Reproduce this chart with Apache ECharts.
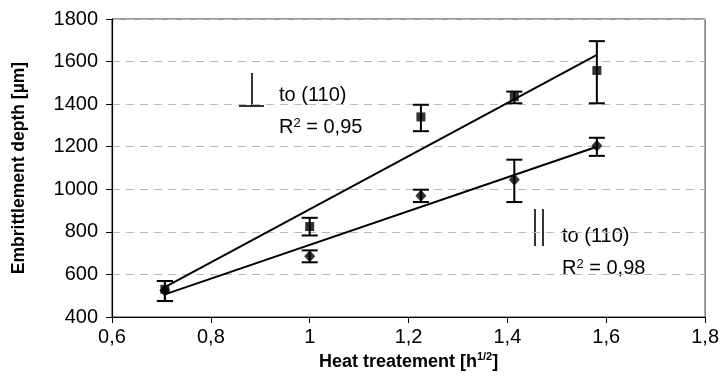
<!DOCTYPE html>
<html>
<head>
<meta charset="utf-8">
<script src="https://cdn.jsdelivr.net/npm/echarts@6/dist/echarts.min.js"></script>
<style>
html,body{margin:0;padding:0;background:#fff;}
#chart{width:722px;height:388px;}
</style>
</head>
<body>
<div id="chart"></div>
<script>
// Heat treatment (sqrt of hours)
const xValues = [0.707, 1, 1.225, 1.414, 1.581];
// Perpendicular to (110) - squares
const perpMean = [530, 825, 1340, 1435, 1558];
const perpLow  = [475, 783, 1273, 1404, 1404];
const perpHigh = [569, 866, 1397, 1459, 1696];
// Parallel to (110) - diamonds
const parMean = [525, 685, 970, 1045, 1205];
const parLow  = [475, 657, 940, 940, 1157];
const parHigh = [569, 713, 998, 1139, 1242];

const xTicks = [0.6, 0.8, 1.0, 1.2, 1.4, 1.6, 1.8];
const yTicks = [400, 600, 800, 1000, 1200, 1400, 1600, 1800];

function linFit(xs, ys) {
  const n = xs.length;
  const mx = xs.reduce((a,b)=>a+b,0)/n;
  const my = ys.reduce((a,b)=>a+b,0)/n;
  let sxy=0, sxx=0;
  for (let i=0;i<n;i++){ sxy += (xs[i]-mx)*(ys[i]-my); sxx += (xs[i]-mx)*(xs[i]-mx); }
  const b = sxy/sxx, a = my - b*mx;
  const x0 = Math.min(...xs), x1 = Math.max(...xs);
  return [[x0, a+b*x0],[x1, a+b*x1]];
}

function errData(xs, lo, hi){ return xs.map((x,i)=>[x, lo[i], hi[i]]); }

function errRender(params, api){
  const x = api.value(0);
  const p1 = api.coord([x, api.value(1)]);
  const p2 = api.coord([x, api.value(2)]);
  const hw = 8;
  const st = {stroke:'#000', lineWidth:2};
  return {type:'group', children:[
    {type:'line', shape:{x1:p1[0],y1:p1[1],x2:p2[0],y2:p2[1]}, style:st},
    {type:'line', shape:{x1:p1[0]-hw,y1:p1[1],x2:p1[0]+hw,y2:p1[1]}, style:st},
    {type:'line', shape:{x1:p2[0]-hw,y1:p2[1],x2:p2[0]+hw,y2:p2[1]}, style:st}
  ]};
}

const FONT = '"Liberation Sans", Arial, sans-serif';
const chart = echarts.init(document.getElementById('chart'));
const lineSt = {stroke:'#000', lineWidth:1.6};
chart.setOption({
  animation:false,
  grid:{left:112, right:16, top:19, bottom:71, show:true, borderColor:'#333', borderWidth:1},
  xAxis:{
    type:'value', min:xTicks[0], max:xTicks[xTicks.length-1], interval:0.2,
    name:'Heat treatement [h{sup|1/2}]', nameLocation:'middle', nameGap:23,
    nameTextStyle:{fontFamily:FONT, fontWeight:'bold', fontSize:18, color:'#000',
      rich:{sup:{fontFamily:FONT, fontWeight:'bold', fontSize:11, color:'#000', verticalAlign:'top', padding:[0,0,9,0]}}},
    axisLine:{lineStyle:{color:'#000', width:1.2}},
    axisTick:{show:true, length:6, lineStyle:{color:'#000'}},
    axisLabel:{fontFamily:FONT, fontSize:20, color:'#000', margin:10,
      formatter:v=>(Math.round(v*10)/10).toString().replace('.', ',')},
    splitLine:{show:false}
  },
  yAxis:{
    type:'value', min:yTicks[0], max:yTicks[yTicks.length-1], interval:200,
    name:'Embrittlement depth [µm]', nameLocation:'middle', nameGap:84, nameRotate:90,
    nameTextStyle:{fontFamily:FONT, fontWeight:'bold', fontSize:17.5, color:'#000'},
    axisLine:{show:true, lineStyle:{color:'#000', width:1.2}},
    axisTick:{show:true, length:6, lineStyle:{color:'#000'}},
    axisLabel:{fontFamily:FONT, fontSize:20, color:'#000', margin:14, formatter:v=>String(v)},
    splitLine:{show:true, lineStyle:{color:'#bbb', type:[8,6], width:1}}
  },
  series:[
    {type:'line', data:linFit(xValues, perpMean), symbol:'none', lineStyle:{color:'#000', width:2}, z:2},
    {type:'line', data:linFit(xValues, parMean), symbol:'none', lineStyle:{color:'#000', width:2}, z:2},
    {type:'custom', data:errData(xValues, perpLow, perpHigh), renderItem:errRender, encode:{x:0,y:[1,2]}, z:3},
    {type:'custom', data:errData(xValues, parLow, parHigh), renderItem:errRender, encode:{x:0,y:[1,2]}, z:3},
    {type:'scatter', data:xValues.map((x,i)=>[x, perpMean[i]]), symbol:'rect', symbolSize:9, itemStyle:{color:'#000'}, z:4},
    {type:'scatter', data:xValues.map((x,i)=>[x, parMean[i]]), symbol:'diamond', symbolSize:[11,12], itemStyle:{color:'#000'}, z:4}
  ],
  graphic:[
    {type:'line', shape:{x1:252,y1:73,x2:252,y2:106}, style:lineSt},
    {type:'line', shape:{x1:239,y1:106,x2:264,y2:106}, style:lineSt},
    {type:'text', left:279, top:85, style:{text:'to (110)', font:'20px '+FONT, fill:'#000'}},
    {type:'text', left:279, top:117, style:{text:'R{sup|2} = 0,95', font:'20px '+FONT, fill:'#000',
      rich:{sup:{fontSize:13, fontFamily:FONT, verticalAlign:'top', padding:[0,0,8,0]}}}},
    {type:'line', shape:{x1:535,y1:209,x2:535,y2:246}, style:lineSt},
    {type:'line', shape:{x1:543,y1:209,x2:543,y2:246}, style:lineSt},
    {type:'text', left:562, top:226, style:{text:'to (110)', font:'20px '+FONT, fill:'#000'}},
    {type:'text', left:562, top:258, style:{text:'R{sup|2} = 0,98', font:'20px '+FONT, fill:'#000',
      rich:{sup:{fontSize:13, fontFamily:FONT, verticalAlign:'top', padding:[0,0,8,0]}}}}
  ]
});
</script>
</body>
</html>
